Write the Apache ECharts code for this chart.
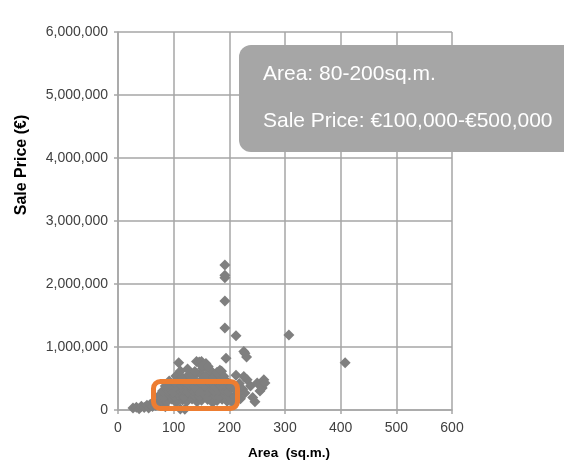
<!DOCTYPE html>
<html>
<head>
<meta charset="utf-8">
<script src="https://cdn.jsdelivr.net/npm/echarts@6/dist/echarts.min.js"></script>
<style>html,body{margin:0;padding:0;background:#fff;}#c{width:564px;height:464px;}</style>
</head>
<body>
<div id="c"></div>
<script>
// Area (sq.m.) values
const areas = [
  27,33,38,42,47,52,55,58,62,66,68,72,75,85,112,120,
  78,88,97,105,116,124,133,142,150,161,170,178,187,196,205,
  74,83,92,101,110,119,128,137,146,155,164,173,182,191,200,209,
  80,90,99,108,117,126,135,144,153,162,171,180,189,198,
  85,94,103,112,121,130,139,148,157,166,175,184,193,202,
  92,101,110,120,129,138,147,156,165,174,183,192,
  104,115,127,136,148,158,170,181,190,
  112,125,138,152,165,178,186,
  212,218,224,228,232,238,242,246,250,255,259,262,264,215,220,206,226,210,
  109,141,146,150,151,158,162,183,194,228,226,231,212,192,192,192,192,192,307,408
];
// Sale Price (€) values
const prices = [
  30000,45000,20000,60000,40000,75000,30000,90000,55000,110000,70000,130000,95000,50000,15000,10000,
  150000,130000,170000,120000,160000,140000,175000,130000,155000,165000,120000,150000,170000,140000,160000,
  230000,210000,250000,220000,240000,205000,260000,230000,215000,250000,225000,240000,210000,255000,230000,220000,
  300000,320000,290000,330000,310000,285000,320000,300000,335000,290000,315000,305000,325000,295000,
  380000,400000,370000,410000,385000,395000,365000,415000,380000,400000,370000,390000,410000,375000,
  460000,440000,480000,450000,500000,470000,445000,490000,460000,475000,455000,485000,
  540000,520000,560000,530000,575000,545000,525000,560000,535000,
  620000,650000,610000,660000,640000,600000,615000,
  550000,420000,330000,270000,480000,380000,200000,130000,430000,300000,350000,480000,430000,250000,180000,120000,530000,330000,
  750000,770000,760000,770000,700000,740000,690000,630000,820000,900000,930000,840000,1180000,1300000,1730000,2100000,2140000,2300000,1190000,750000
];
const xTicks = [0,100,200,300,400,500,600];
const yTicks = [0,1000000,2000000,3000000,4000000,5000000,6000000];

const points = areas.map((a, i) => [a, prices[i]]);

const chart = echarts.init(document.getElementById('c'), null, {renderer: 'canvas'});
const gridColor = '#a6a6a6';
const font = 'Liberation Sans, Arial, sans-serif';
chart.setOption({
  animation: false,
  grid: {left: 118, right: 112, top: 32, bottom: 54},
  xAxis: {
    type: 'value', min: 0, max: 600, interval: 100,
    axisLine: {show: true, lineStyle: {color: gridColor, width: 1.5}},
    axisTick: {show: true, length: 4, lineStyle: {color: gridColor, width: 1.5}},
    splitLine: {show: true, lineStyle: {color: gridColor, width: 1.5}},
    axisLabel: {color: '#404040', fontSize: 14, fontFamily: font, margin: 11,
      formatter: v => xTicks.includes(v) ? String(v) : ''}
  },
  yAxis: {
    type: 'value', min: 0, max: 6000000, interval: 1000000,
    axisLine: {show: true, lineStyle: {color: gridColor, width: 1.5}},
    axisTick: {show: true, length: 4, lineStyle: {color: gridColor, width: 1.5}},
    splitLine: {show: true, lineStyle: {color: gridColor, width: 1.5}},
    axisLabel: {color: '#404040', fontSize: 14, fontFamily: font, margin: 10,
      formatter: v => yTicks.includes(v) ? v.toLocaleString('en-US') : ''}
  },
  series: [{
    type: 'scatter',
    symbol: 'diamond',
    symbolSize: 11,
    itemStyle: {color: '#7f7f7f', opacity: 1},
    data: points,
    z: 3
  }],
  graphic: [
    {type: 'text', z: 10, x: 22, y: 165, rotation: Math.PI / 2,
      style: {text: 'Sale Price (€)', fontSize: 16, fontWeight: 'bold', fill: '#000', fontFamily: font,
        textAlign: 'center', textVerticalAlign: 'middle'}},
    {type: 'text', z: 10, x: 289, y: 453,
      style: {text: 'Area  (sq.m.)', fontSize: 13.5, fontWeight: 'bold', fill: '#000', fontFamily: font,
        textAlign: 'center', textVerticalAlign: 'middle'}},
    {type: 'rect', z: 20, shape: {x: 239, y: 45, width: 360, height: 107, r: 12},
      style: {fill: '#a6a6a6'}},
    {type: 'text', z: 21, x: 263, y: 74,
      style: {text: 'Area: 80-200sq.m.', fontSize: 21, fill: '#fff', fontFamily: font, textVerticalAlign: 'middle'}},
    {type: 'text', z: 21, x: 263, y: 121,
      style: {text: 'Sale Price: €100,000-€500,000', fontSize: 21, fill: '#fff', fontFamily: font, textVerticalAlign: 'middle'}},
    {type: 'rect', z: 22, shape: {x: 153.5, y: 381.5, width: 84, height: 27, r: 7},
      style: {fill: 'none', stroke: '#ed7d31', lineWidth: 5}}
  ]
});
</script>
</body>
</html>
